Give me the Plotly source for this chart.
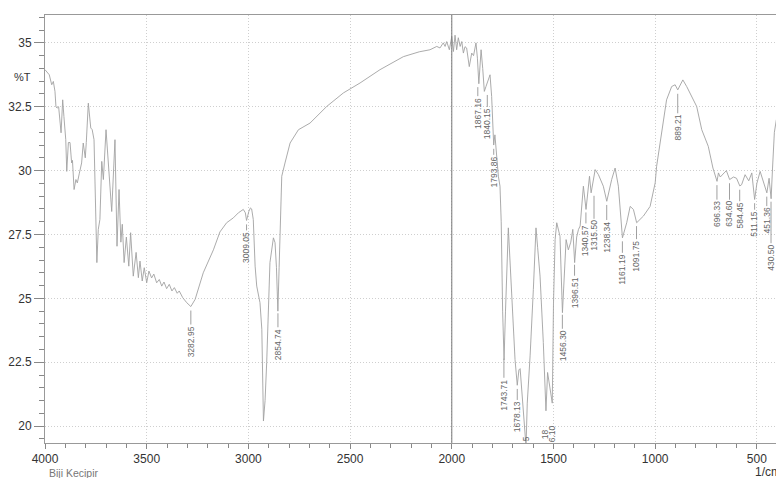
import numpy as np
import plotly.graph_objects as go

# ---------------- data ----------------
wavenumber = [4000, 3990, 3979, 3967, 3959, 3951, 3946, 3940, 3933, 3921, 3913, 3907, 3898, 3893, 3885,
              3877, 3869, 3865, 3857, 3848, 3841, 3831, 3820, 3812, 3802, 3797, 3787, 3775, 3768, 3759,
              3753, 3745, 3738, 3730, 3721, 3713, 3700, 3694, 3684, 3672, 3656, 3646, 3636, 3627, 3620,
              3611, 3600, 3588, 3579, 3566, 3552, 3541, 3533, 3522, 3512, 3500, 3489, 3476, 3465, 3451,
              3438, 3426, 3415, 3402, 3389, 3376, 3364, 3350, 3340, 3323, 3303, 3283, 3262, 3222, 3172,
              3140, 3107, 3074, 3049, 3025, 3015, 3009, 2998, 2990, 2984, 2976, 2967, 2959, 2943, 2934,
              2926, 2918, 2910, 2894, 2877, 2869, 2862, 2855, 2849, 2845, 2836, 2820, 2795, 2754, 2697,
              2615, 2533, 2451, 2353, 2238, 2160, 2107, 2091, 2074, 2058, 2042, 2033, 2025, 2012, 2000,
              1992, 1984, 1976, 1968, 1959, 1951, 1943, 1935, 1927, 1914, 1902, 1893, 1881, 1874, 1867,
              1861, 1856, 1848, 1840, 1832, 1822, 1812, 1804, 1800, 1794, 1788, 1779, 1771, 1763, 1757,
              1750, 1743, 1736, 1728, 1722, 1714, 1705, 1697, 1689, 1678, 1670, 1664, 1656, 1648, 1641,
              1635, 1629, 1615, 1599, 1591, 1586, 1578, 1566, 1550, 1541, 1537, 1529, 1522, 1513, 1506,
              1500, 1492, 1484, 1468, 1456, 1443, 1438, 1427, 1415, 1405, 1396, 1386, 1377, 1369, 1353,
              1340, 1323, 1315, 1295, 1279, 1255, 1238, 1214, 1197, 1181, 1161, 1150, 1140, 1123, 1107,
              1091, 1075, 1058, 1025, 1000, 993, 968, 944, 919, 902, 889, 876, 864, 845, 820,
              796, 771, 739, 716, 696, 689, 680, 661, 650, 634, 615, 600, 584, 575, 558,
              540, 525, 511, 500, 484, 464, 451, 440, 430, 423, 414, 404]

transmittance = [33.95, 33.85, 33.75, 33.36, 33.49, 33.10, 32.49, 32.45, 32.50, 31.48, 32.77, 32.12, 31.21, 29.97, 31.10,
                 31.10, 30.30, 30.40, 29.26, 29.65, 29.52, 29.90, 30.30, 31.08, 30.50, 31.10, 32.64, 31.67, 31.60, 31.21,
                 29.39, 26.40, 27.70, 28.09, 30.36, 29.65, 31.60, 30.82, 29.60, 28.40, 31.21, 27.04, 29.26, 27.20, 27.90,
                 26.40, 27.40, 26.26, 27.57, 25.87, 26.80, 25.81, 26.46, 25.68, 26.20, 25.61, 26.07, 25.80, 25.95, 25.61,
                 25.74, 25.48, 25.64, 25.38, 25.55, 25.29, 25.42, 25.20, 25.29, 25.03, 24.83, 24.68, 24.96, 26.00, 26.90,
                 27.60, 27.96, 28.15, 28.35, 28.48, 28.35, 28.05, 28.40, 28.54, 28.50, 28.09, 26.26, 25.48, 24.83, 23.79,
                 20.20, 21.00, 22.49, 26.40, 27.37, 27.18, 26.20, 24.50, 26.20, 27.57, 29.78, 30.30, 31.08, 31.60, 31.86,
                 32.51, 33.04, 33.43, 33.95, 34.46, 34.65, 34.73, 34.79, 34.86, 34.80, 35.00, 34.86, 35.05, 34.73, 35.25,
                 34.66, 35.30, 34.73, 35.20, 34.86, 35.05, 34.60, 34.85, 34.80, 34.07, 34.60, 34.50, 35.00, 34.40, 33.40,
                 34.07, 34.73, 34.00, 33.10, 33.29, 33.50, 33.75, 32.90, 32.20, 31.00, 31.40, 30.43, 29.78, 29.39, 28.00,
                 24.50, 22.60, 24.50, 27.00, 27.76, 26.50, 25.00, 23.40, 22.60, 21.60, 22.20, 22.25, 21.30, 20.40, 19.90,
                 19.20, 20.90, 22.75, 25.35, 27.40, 27.76, 27.00, 25.87, 23.27, 21.00, 20.60, 22.10, 21.70, 21.10, 20.90,
                 24.80, 27.30, 27.96, 27.43, 24.44, 26.50, 27.30, 26.90, 27.20, 27.70, 26.40, 27.40, 27.70, 27.83, 29.39,
                 28.48, 29.78, 29.13, 30.04, 29.84, 29.39, 28.80, 29.65, 30.10, 29.39, 27.37, 27.70, 27.96, 28.60, 28.48,
                 27.96, 28.10, 28.22, 28.60, 29.52, 30.17, 31.47, 32.77, 33.29, 33.36, 33.16, 33.40, 33.55, 33.29, 32.90,
                 32.51, 31.60, 30.95, 30.10, 29.58, 29.91, 29.75, 29.91, 30.00, 29.65, 29.75, 29.70, 29.40, 29.45, 29.84,
                 29.60, 29.91, 28.87, 29.50, 29.97, 29.45, 29.13, 29.70, 28.90, 30.10, 31.50, 32.00]

peak_labels = ["3282.95", "3009.05", "2854.74", "1867.16", "1840.15", "1793.86", "1743.71", "1678.13",
               "1456.30", "1396.51", "1340.57", "1315.50", "1238.34", "1161.19", "1091.75", "889.21",
               "696.33", "634.60", "584.45", "511.15", "451.36", "430.50"]

# labels whose start is hidden below the frame: (visible text, wavenumber)
clipped_labels = ["5", "18", "6.10"]
clipped_wavenumbers = [1635.0, 1541.18, 1506.10]

x_ticks = [4000, 3500, 3000, 2500, 2000, 1500, 1000, 500]
y_ticks = [20, 22.5, 25, 27.5, 30, 32.5, 35]

# ---------------- style / layout ----------------
label_offsets = [35, 27, 35, 30, 33, 27, 40, 32, 35, 32, 32, 44, 36, 32, 34, 38, 33, 35, 30, 25, 28, 60]
label_xshift = [0, 0, 0, -1, 3, 0, 0, 0, 0, 0, 0, 3, 0, 0, 0, 0, 0, 0, 0, 0, 0, 0]
clipped_text_y = [19.49, 19.69, 19.69]

FONT = "Liberation Sans, Arial, sans-serif"
LINE = "#a2a2a2"

fig = go.Figure()
fig.add_trace(go.Scatter(x=wavenumber, y=transmittance, mode="lines",
                         line=dict(color=LINE, width=0.9), hoverinfo="skip", showlegend=False))

wn_sorted = np.array(wavenumber[::-1], dtype=float)
t_sorted = np.array(transmittance[::-1], dtype=float)

annotations = []
for lab, off, xs in zip(peak_labels, label_offsets, label_xshift):
    xv = float(lab)
    yv = float(np.interp(xv, wn_sorted, t_sorted))
    annotations.append(dict(x=xv, y=yv, xref="x", yref="y", text=lab, textangle=-90,
                            showarrow=True, arrowhead=0, arrowwidth=0.8, arrowcolor="#888",
                            ax=0, ay=off, standoff=4, xshift=xs,
                            font=dict(family=FONT, size=8.5, color="#666")))

for lab, xv, yv in zip(clipped_labels, clipped_wavenumbers, clipped_text_y):
    annotations.append(dict(x=xv, y=yv, xref="x", yref="y", text=lab, textangle=-90,
                            showarrow=False, font=dict(family=FONT, size=8.5, color="#666")))

annotations += [
    dict(x=-0.031, y=0.855, xref="paper", yref="paper", text="%T", showarrow=False,
         xanchor="center", yanchor="middle", font=dict(family=FONT, size=11, color="#333")),
    dict(x=0.003, y=-0.07, xref="paper", yref="paper", text="Biji Kecipir", showarrow=False,
         xanchor="left", yanchor="middle", font=dict(family=FONT, size=10.5, color="#777")),
    dict(x=0.968, y=-0.068, xref="paper", yref="paper", text="1/cm", showarrow=False,
         xanchor="left", yanchor="middle", font=dict(family=FONT, size=12, color="#333")),
]

shapes = [dict(type="line", xref="x", yref="paper", x0=2000, x1=2000, y0=0, y1=1,
               line=dict(color="#777", width=1))]

fig.update_layout(
    width=776, height=478,
    margin=dict(l=45, r=0, t=15, b=35, autoexpand=False),
    paper_bgcolor="white", plot_bgcolor="white",
    annotations=annotations, shapes=shapes,
    xaxis=dict(range=[4000, 406], tickmode="array", tickvals=x_ticks, automargin=False,
               ticks="outside", ticklen=5, tickcolor="#888", tickwidth=1,
               showline=True, linecolor="#999", linewidth=1, mirror=True,
               showgrid=True, gridcolor="#cfcfcf", griddash="1px,2px", gridwidth=1,
               zeroline=False,
               minor=dict(tick0=0, dtick=100, ticks="outside", ticklen=4, tickcolor="#888", showgrid=False),
               tickfont=dict(family=FONT, size=12, color="#333")),
    yaxis=dict(range=[19.34, 36.09], tickmode="array", tickvals=y_ticks, automargin=False,
               ticks="outside", ticklen=10, tickcolor="#888", tickwidth=1,
               showline=True, linecolor="#999", linewidth=1,
               showgrid=True, gridcolor="#cfcfcf", griddash="1px,2px", gridwidth=1,
               zeroline=False,
               minor=dict(tick0=0, dtick=0.5, ticks="outside", ticklen=5, tickcolor="#888", showgrid=False),
               tickfont=dict(family=FONT, size=12, color="#333")),
)

fig.write_html("out.html", config={"displayModeBar": False},
               post_script="document.body.style.margin='0';document.body.style.overflow='hidden';")
